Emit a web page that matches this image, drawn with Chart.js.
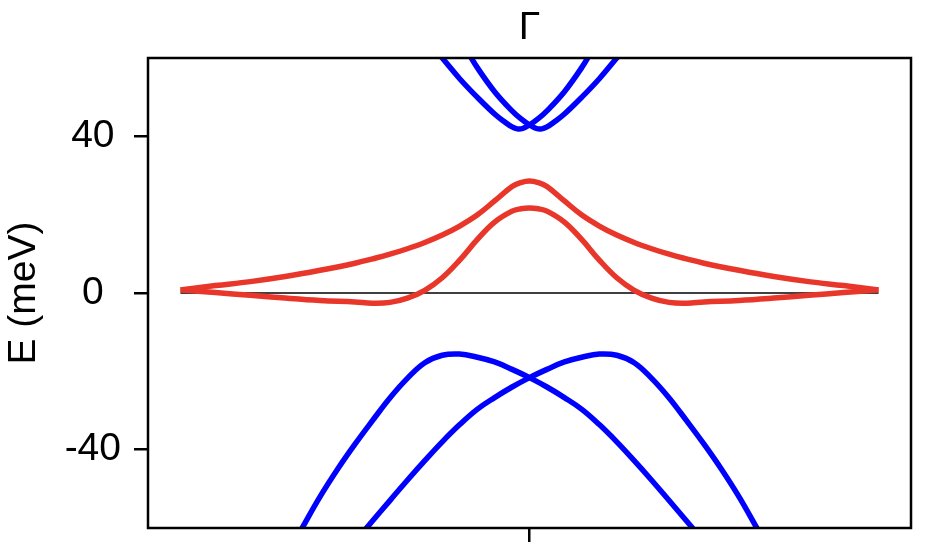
<!DOCTYPE html>
<html>
<head>
<meta charset="utf-8">
<script src="https://cdn.jsdelivr.net/npm/chart.js@4/dist/chart.umd.min.js"></script>
<style>
  html, body { margin: 0; padding: 0; background: #fff; }
  #wrap { width: 926px; height: 553px; position: relative; }
</style>
</head>
<body>
<div id="wrap"><canvas id="bands"></canvas></div>
<script>
// ## Data (momentum k, energy in meV) ##########################################################
const kRed = [-1, -0.9, -0.8, -0.7, -0.6, -0.5, -0.45, -0.4, -0.35, -0.3, -0.25, -0.2, -0.15, -0.1, -0.05, -0.025, 0,
              0.025, 0.05, 0.1, 0.15, 0.2, 0.25, 0.3, 0.35, 0.4, 0.45, 0.5, 0.6, 0.7, 0.8, 0.9, 1];
const eRedUpper = [0.8, 1.9, 2.9, 4.2, 5.8, 7.6, 8.7, 9.9, 11.3, 12.9, 14.8, 17.1, 19.9, 23.5, 27.2, 28.2, 28.6,
                   28.2, 27.2, 23.5, 19.9, 17.1, 14.8, 12.9, 11.3, 9.9, 8.7, 7.6, 5.8, 4.2, 2.9, 1.9, 0.8];
const eRedLower = [0.8, 0.1, -0.6, -1.3, -1.9, -2.3, -2.6, -2.4, -1.3, 0.7, 3.9, 8.4, 13.6, 18.1, 20.9, 21.5, 21.7,
                   21.5, 20.9, 18.1, 13.6, 8.4, 3.9, 0.7, -1.3, -2.4, -2.6, -2.3, -1.9, -1.3, -0.6, 0.1, 0.8];

// upper blue pair, mirror images of each other
const kBlueUpA = [-0.27, -0.25, -0.2, -0.15, -0.1, -0.07, -0.05, -0.035, -0.02, 0, 0.025, 0.05, 0.1, 0.15, 0.18];
const eBlueUpA = [62, 60, 54.7, 50, 45.7, 43.6, 42.4, 41.9, 42.0, 42.9, 44.5, 46.5, 51.4, 57.6, 62];
const kBlueUpB = [-0.18, -0.15, -0.1, -0.05, -0.025, 0, 0.02, 0.035, 0.05, 0.07, 0.1, 0.15, 0.2, 0.25, 0.27];
const eBlueUpB = [62, 57.6, 51.4, 46.5, 44.5, 42.9, 42.0, 41.9, 42.4, 43.6, 45.7, 50, 54.7, 60, 62];

// lower blue pair
const kBlueLoC = [-0.67, -0.65, -0.6, -0.55, -0.5, -0.45, -0.4, -0.35, -0.3, -0.25, -0.2, -0.15, -0.1, -0.05, 0,
                  0.05, 0.1, 0.15, 0.2, 0.25, 0.3, 0.35, 0.4, 0.45, 0.5];
const eBlueLoC = [-63, -59.8, -52, -45, -38.6, -32.6, -26.8, -21.8, -17.8, -15.9, -15.6, -16.4, -17.6, -19.5, -21.6,
                  -24, -26.7, -29.7, -33.6, -38, -42.8, -47.8, -53, -58.2, -63.5];
const kBlueLoD = [-0.5, -0.45, -0.4, -0.35, -0.3, -0.25, -0.2, -0.15, -0.1, -0.05, 0, 0.05, 0.1, 0.15, 0.2,
                  0.25, 0.3, 0.35, 0.4, 0.45, 0.5, 0.55, 0.6, 0.65, 0.67];
const eBlueLoD = [-63.5, -58.2, -53, -47.8, -42.8, -38, -33.6, -29.7, -26.7, -24, -21.6, -19.5, -17.6, -16.4, -15.6,
                  -15.9, -17.8, -21.8, -26.8, -32.6, -38.6, -45, -52, -59.8, -63];

const kZero = [-1, 1];
const eZero = [0, 0];

const yTicks = [-40, 0, 40];
const xTicks = [0];
const xTopLabel = 'Γ';
const yTitle = 'E (meV)';

// ## Helpers ##########################################################################
const FONT = { family: "'Liberation Sans', Arial, sans-serif", size: 39 };
const RED = '#e8372a';
const BLUE = '#0000ff';

function pts(ks, es) {
  return ks.map((k, i) => ({ x: k, y: es[i] }));
}

function band(ks, es, color, order) {
  return {
    data: pts(ks, es),
    borderColor: color,
    borderWidth: 5.5,
    pointRadius: 0,
    tension: 0.4,
    clip: 0,
    order: order
  };
}

/** box round the plot area like a matplotlib frame */
const framePlugin = {
  id: 'frame',
  afterDatasetsDraw(chart) {
    const a = chart.chartArea;
    const c = chart.ctx;
    c.save();
    c.strokeStyle = '#000';
    c.lineWidth = 2.5;
    c.strokeRect(a.left, a.top, a.right - a.left, a.bottom - a.top);
    c.restore();
  }
};

// ## Chart ##########################################################################
const X_MIN = -1.093, X_MAX = 1.093;

new Chart(document.getElementById('bands').getContext('2d'), {
  type: 'line',
  data: {
    datasets: [
      Object.assign(band(kZero, eZero, '#000', 10), { borderWidth: 1.5, tension: 0 }),
      band(kRed, eRedUpper, RED, 1),
      band(kRed, eRedLower, RED, 1),
      band(kBlueUpA, eBlueUpA, BLUE, 2),
      band(kBlueUpB, eBlueUpB, BLUE, 2),
      band(kBlueLoC, eBlueLoC, BLUE, 2),
      band(kBlueLoD, eBlueLoD, BLUE, 2)
    ]
  },
  options: {
    responsive: true,
    maintainAspectRatio: false,
    animation: false,
    layout: { padding: { left: 0, right: 15, top: 0, bottom: 0 } },
    plugins: { legend: { display: false }, tooltip: { enabled: false } },
    scales: {
      x: {
        type: 'linear', position: 'bottom', min: X_MIN, max: X_MAX,
        afterBuildTicks: s => { s.ticks = xTicks.map(v => ({ value: v })); },
        afterFit: s => { s.height = 25; },
        grid: { drawOnChartArea: false, drawTicks: true, tickLength: 14, lineWidth: 2.5, color: '#000' },
        border: { display: false },
        ticks: { callback: () => '', padding: 0 }
      },
      xt: {
        type: 'linear', position: 'top', min: X_MIN, max: X_MAX,
        afterBuildTicks: s => { s.ticks = xTicks.map(v => ({ value: v })); },
        afterFit: s => { s.height = 58; },
        grid: { drawOnChartArea: false, drawTicks: false },
        border: { display: false },
        ticks: { callback: () => xTopLabel, color: '#000', font: FONT, padding: 6, maxRotation: 0 }
      },
      y: {
        type: 'linear', position: 'left', min: -60, max: 60,
        afterBuildTicks: s => { s.ticks = yTicks.map(v => ({ value: v })); },
        // fixed width, and no extra room for the end labels (they sit well inside)
        afterFit: s => { s.width = 148; s.paddingTop = 0; s.paddingBottom = 0; },
        grid: { drawOnChartArea: false, drawTicks: true, tickLength: 14, lineWidth: 2.5, color: '#000' },
        border: { display: false },
        ticks: { color: '#000', font: FONT, padding: 13, crossAlign: 'center' },
        title: { display: true, text: yTitle, color: '#000', font: FONT, padding: { top: 1, bottom: 0 } }
      }
    }
  },
  plugins: [framePlugin]
});
</script>
</body>
</html>
